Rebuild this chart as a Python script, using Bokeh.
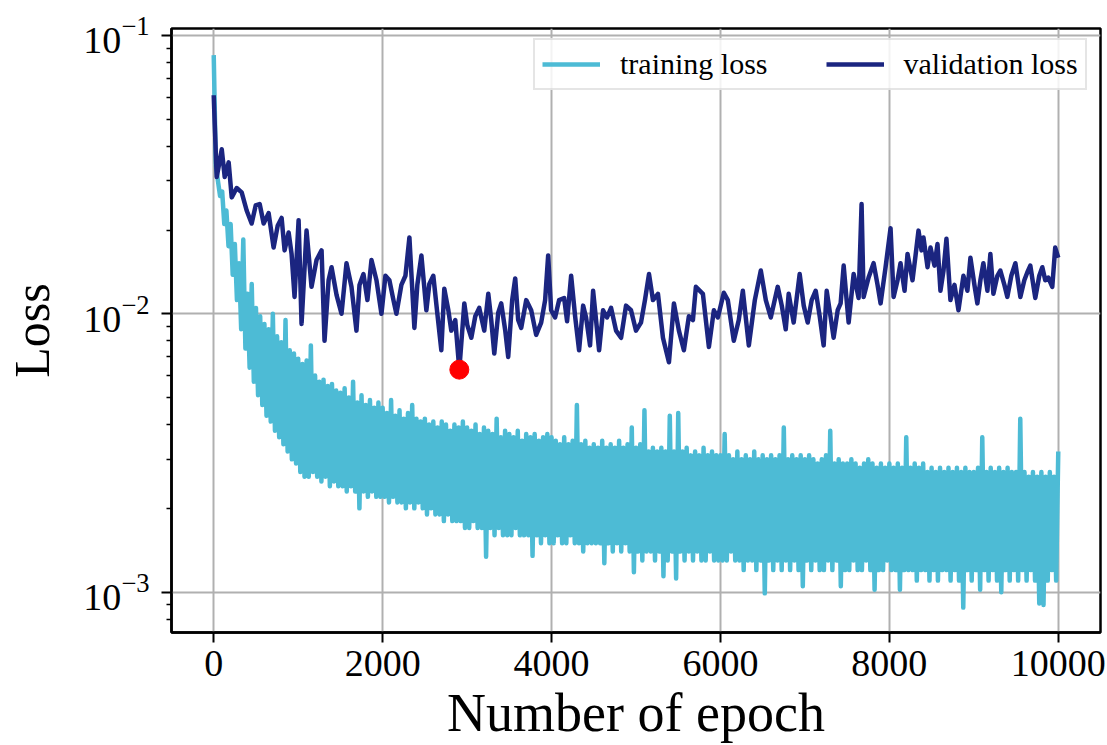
from bokeh.plotting import figure
from bokeh.models import Range1d, FixedTicker, LogTickFormatter, Legend, LegendItem
from bokeh.embed import file_html
from bokeh.resources import INLINE

# ---------------- data ----------------
train_epochs = list(range(0, 10001, 25))
train_loss = [
    0.085, 0.034, 0.030, 0.0265, 0.0275, 0.021, 0.0235, 0.0175, 0.021, 0.0138, 0.0178, 0.0112, 0.0152, 0.0088, 0.0185, 0.0075, 0.0118, 0.0064, 0.0128, 0.0057,
    0.0105, 0.0051, 0.0098, 0.0047, 0.0092, 0.0043, 0.0088, 0.0041, 0.0100, 0.0038, 0.0083, 0.0036, 0.0079, 0.0034, 0.0095, 0.0032, 0.0074, 0.0030, 0.0072, 0.0029,
    0.0069, 0.0027, 0.0066, 0.0026, 0.0068, 0.0026, 0.0077, 0.0027, 0.0060, 0.0026, 0.0057, 0.0025, 0.0058, 0.0026, 0.0055, 0.0024, 0.0056, 0.0025, 0.0053, 0.0024,
    0.0052, 0.0024, 0.0054, 0.0023, 0.0050, 0.0024, 0.0057, 0.0023, 0.0048, 0.0020, 0.0051, 0.0023, 0.0047, 0.0022, 0.0049, 0.0023, 0.0046, 0.0022, 0.0048, 0.0022,
    0.0046, 0.0022, 0.0044, 0.0021, 0.0049, 0.0022, 0.0043, 0.0021, 0.0045, 0.0021, 0.0042, 0.0020, 0.0044, 0.0021, 0.0047, 0.0020, 0.0042, 0.0021, 0.0041, 0.0020,
    0.0042, 0.0019, 0.0040, 0.0020, 0.0041, 0.0019, 0.0039, 0.0019, 0.0041, 0.0018, 0.0040, 0.0019, 0.0038, 0.0018, 0.0040, 0.0018, 0.0039, 0.0018, 0.0041, 0.0017,
    0.0039, 0.0017, 0.0038, 0.0018, 0.0040, 0.0017, 0.0037, 0.0017, 0.0039, 0.00134, 0.0038, 0.0017, 0.0037, 0.0016, 0.0042, 0.0017, 0.0036, 0.0016, 0.0038, 0.0016,
    0.0037, 0.0016, 0.0036, 0.0017, 0.0038, 0.0016, 0.0035, 0.0016, 0.0037, 0.0016, 0.0036, 0.00135, 0.0037, 0.0016, 0.0035, 0.0015, 0.0036, 0.0016, 0.0037, 0.0015,
    0.0036, 0.0015, 0.0035, 0.0016, 0.0034, 0.0015, 0.0036, 0.0015, 0.0034, 0.0016, 0.0035, 0.0015, 0.0047, 0.0015, 0.0034, 0.0014, 0.0035, 0.0015, 0.0033, 0.0015,
    0.0034, 0.0015, 0.0033, 0.0015, 0.0035, 0.00127, 0.0033, 0.0015, 0.0034, 0.0014, 0.0033, 0.0015, 0.0035, 0.0014, 0.0033, 0.0015, 0.0034, 0.0014, 0.0039, 0.00118,
    0.0033, 0.0014, 0.0034, 0.0013, 0.0045, 0.0014, 0.0032, 0.0014, 0.0033, 0.0013, 0.0032, 0.0014, 0.0033, 0.00114, 0.0032, 0.0013, 0.0043, 0.0014, 0.0032, 0.00112,
    0.0044, 0.0014, 0.0032, 0.0013, 0.0033, 0.0014, 0.0031, 0.0013, 0.0032, 0.0014, 0.0031, 0.0013, 0.0033, 0.0013, 0.0031, 0.0014, 0.0032, 0.0013, 0.0031, 0.0013,
    0.0031, 0.0013, 0.0037, 0.0013, 0.0031, 0.0014, 0.0030, 0.0013, 0.0032, 0.0013, 0.0030, 0.0012, 0.0031, 0.0013, 0.0030, 0.0013, 0.0032, 0.0012, 0.0030, 0.0013,
    0.0031, 0.00099, 0.0030, 0.0013, 0.0031, 0.0012, 0.0030, 0.0013, 0.0031, 0.0012, 0.0039, 0.0013, 0.0030, 0.0012, 0.0031, 0.0013, 0.0030, 0.0012, 0.0031, 0.00105,
    0.0030, 0.0013, 0.0031, 0.0012, 0.0030, 0.0013, 0.0029, 0.0012, 0.0030, 0.0012, 0.0031, 0.0013, 0.0038, 0.0012, 0.0029, 0.0013, 0.0030, 0.00105, 0.0029, 0.0012,
    0.0029, 0.0012, 0.0030, 0.0013, 0.0029, 0.0012, 0.0028, 0.0012, 0.0029, 0.0013, 0.0030, 0.0012, 0.0029, 0.00102, 0.0028, 0.0012, 0.0029, 0.0012, 0.0028, 0.0013,
    0.0029, 0.0012, 0.0028, 0.0012, 0.0029, 0.00102, 0.0028, 0.0012, 0.0036, 0.0012, 0.0028, 0.0012, 0.0029, 0.0011, 0.0028, 0.0012, 0.0029, 0.0012, 0.0027, 0.0011,
    0.0028, 0.0012, 0.0027, 0.0011, 0.0028, 0.0012, 0.0027, 0.0012, 0.0028, 0.0011, 0.0027, 0.0012, 0.0028, 0.0011, 0.0027, 0.00088, 0.0028, 0.0012, 0.0027, 0.0011,
    0.0027, 0.0012, 0.0028, 0.00102, 0.0036, 0.0012, 0.0027, 0.0011, 0.0028, 0.0012, 0.0027, 0.0011, 0.0028, 0.0010, 0.0027, 0.0012, 0.0028, 0.0011, 0.0027, 0.0012,
    0.0027, 0.0011, 0.0042, 0.0012, 0.0027, 0.0011, 0.0026, 0.0012, 0.0027, 0.0011, 0.0026, 0.00091, 0.0027, 0.0009, 0.0026, 0.0011, 0.0027, 0.0012, 0.0026, 0.0011,
    0.0032,
]

val_epochs = [
    0, 12, 35, 60, 95, 130, 177, 213, 272, 331, 390, 449, 497, 544, 591, 650, 709, 757, 804, 839,
    887, 922, 957, 1005, 1040, 1099, 1158, 1217, 1277, 1312, 1360, 1395, 1454, 1513, 1572, 1631, 1690, 1726, 1773, 1820,
    1868, 1927, 1986, 2033, 2080, 2128, 2163, 2222, 2270, 2317, 2376, 2411, 2459, 2518, 2553, 2600, 2648, 2695, 2730, 2778,
    2813, 2860, 2908, 2967, 3003, 3050, 3097, 3144, 3203, 3251, 3286, 3322, 3369, 3404, 3452, 3487, 3534, 3570, 3605, 3641,
    3700, 3759, 3818, 3877, 3924, 3960, 3995, 4042, 4090, 4149, 4184, 4232, 4279, 4326, 4374, 4409, 4456, 4492, 4527, 4563,
    4610, 4657, 4705, 4764, 4823, 4882, 4941, 5000, 5059, 5106, 5154, 5201, 5260, 5319, 5390, 5449, 5508, 5567, 5626, 5674,
    5709, 5792, 5863, 5922, 5969, 6040, 6087, 6158, 6217, 6265, 6336, 6407, 6478, 6537, 6596, 6678, 6726, 6773, 6808, 6867,
    6938, 6986, 7033, 7080, 7128, 7175, 7222, 7258, 7305, 7340, 7388, 7423, 7459, 7494, 7518, 7577, 7636, 7671, 7695, 7754,
    7813, 7860, 7896, 7955, 8014, 8050, 8097, 8132, 8180, 8215, 8274, 8310, 8345, 8381, 8404, 8452, 8487, 8534, 8570, 8605,
    8641, 8676, 8723, 8771, 8818, 8877, 8924, 8960, 9007, 9042, 9078, 9113, 9161, 9196, 9232, 9279, 9314, 9362, 9397, 9444,
    9492, 9551, 9598, 9634, 9669, 9728, 9775, 9811, 9846, 9882, 9929, 9964, 10000,
]
val_loss = [
    0.061, 0.048, 0.031, 0.034, 0.039, 0.031, 0.035, 0.0262, 0.0283, 0.0273, 0.0235, 0.0211, 0.0245, 0.0248, 0.0211, 0.0230, 0.0173, 0.0207, 0.0221, 0.0169,
    0.0196, 0.0164, 0.0115, 0.0217, 0.0092, 0.0199, 0.0125, 0.0156, 0.0169, 0.0080, 0.0132, 0.0147, 0.0117, 0.0100, 0.0152, 0.0125, 0.0087, 0.0127, 0.0139, 0.0112,
    0.0156, 0.0132, 0.0100, 0.0137, 0.0132, 0.0112, 0.0100, 0.0127, 0.0137, 0.0188, 0.0089, 0.0127, 0.0162, 0.0103, 0.0128, 0.0137, 0.0100, 0.0074, 0.0123, 0.0103,
    0.0087, 0.0095, 0.0063, 0.0109, 0.0091, 0.0082, 0.0098, 0.0105, 0.0087, 0.0118, 0.0095, 0.0072, 0.0101, 0.0109, 0.0087, 0.0070, 0.0112, 0.0134, 0.0095, 0.0089,
    0.0112, 0.0103, 0.0084, 0.0093, 0.0112, 0.0162, 0.0103, 0.0097, 0.0112, 0.0114, 0.0094, 0.0137, 0.0098, 0.0074, 0.0107, 0.0097, 0.0077, 0.0121, 0.0095, 0.0074,
    0.0103, 0.0097, 0.0105, 0.0087, 0.0082, 0.0107, 0.0103, 0.0087, 0.0093, 0.0112, 0.0139, 0.0112, 0.0118, 0.0082, 0.0067, 0.0109, 0.0087, 0.0074, 0.0098, 0.0095,
    0.0125, 0.0118, 0.0076, 0.0103, 0.0097, 0.0119, 0.0112, 0.0080, 0.0095, 0.0121, 0.0077, 0.0112, 0.0143, 0.0112, 0.0097, 0.0125, 0.0107, 0.0088, 0.0118, 0.0093,
    0.0139, 0.0107, 0.0093, 0.0112, 0.0121, 0.0098, 0.0077, 0.0121, 0.0097, 0.0082, 0.0103, 0.0109, 0.0149, 0.0112, 0.0093, 0.0139, 0.0114, 0.0248, 0.0115, 0.0135,
    0.0152, 0.0127, 0.0109, 0.0147, 0.0203, 0.0115, 0.0132, 0.0152, 0.0121, 0.0164, 0.0132, 0.0162, 0.0199, 0.0169, 0.0188, 0.0147, 0.0173, 0.0149, 0.0178, 0.0121,
    0.0143, 0.0186, 0.0112, 0.0127, 0.0103, 0.0137, 0.0121, 0.0159, 0.0127, 0.0109, 0.0132, 0.0152, 0.0121, 0.0164, 0.0118, 0.0137, 0.0143, 0.0127, 0.0115, 0.0137,
    0.0152, 0.0115, 0.0132, 0.0141, 0.0149, 0.0114, 0.0137, 0.0147, 0.0132, 0.0135, 0.0125, 0.0173, 0.0159,
]

best_epoch = [2908]
best_loss = [0.0063]

x_ticks = [0, 2000, 4000, 6000, 8000, 10000]
y_ticks = [0.001, 0.01, 0.1]
y_minor = [m * d for d in (0.0001, 0.001, 0.01) for m in range(2, 10)]

TRAIN_COLOR = "#4DBBD5"
VAL_COLOR = "#1B2580"
FONT = "Liberation Serif"

p = figure(
    width=1107, height=745,
    y_axis_type="log",
    x_range=Range1d(-500, 10500),
    y_range=Range1d(10 ** -3.145, 10 ** -0.975),
    output_backend="svg", toolbar_location=None,
    min_border_left=171, min_border_right=7, min_border_top=28, min_border_bottom=113,
    background_fill_color="white", border_fill_color="white",
)

r_train = p.line(train_epochs, train_loss, line_color=TRAIN_COLOR, line_width=4.5, line_join="round")
r_val = p.line(val_epochs, val_loss, line_color=VAL_COLOR, line_width=4.5, line_join="round")
p.scatter(best_epoch, best_loss, size=19, fill_color="#FF0000", line_color="#FF0000")

# axes
p.xaxis.ticker = FixedTicker(ticks=x_ticks, minor_ticks=[])
p.yaxis.ticker = FixedTicker(ticks=y_ticks, minor_ticks=y_minor)
p.yaxis.formatter = LogTickFormatter()

for ax in (p.xaxis[0], p.yaxis[0]):
    ax.axis_line_color = "black"
    ax.axis_line_width = 2.5
    ax.major_tick_line_color = "black"
    ax.major_tick_line_width = 2
    ax.major_tick_out = 10
    ax.major_tick_in = 0
    ax.minor_tick_line_color = "black"
    ax.minor_tick_line_width = 1.6
    ax.minor_tick_out = 5
    ax.minor_tick_in = 0
    ax.major_label_text_font = FONT
    ax.major_label_text_font_size = "38px"
    ax.major_label_text_color = "black"
    ax.axis_label_text_font = FONT
    ax.axis_label_text_font_style = "normal"
    ax.axis_label_text_color = "black"

p.xaxis.axis_label = "Number of epoch"
p.xaxis.axis_label_text_font_size = "54px"
p.xaxis.major_label_standoff = 8
p.xaxis.axis_label_standoff = 4

p.yaxis.axis_label = "Loss"
p.yaxis.axis_label_text_font_size = "50px"
p.yaxis.major_label_standoff = 12
p.yaxis.axis_label_standoff = 20

p.xgrid.grid_line_color = "#b0b0b0"
p.xgrid.grid_line_width = 2
p.ygrid.grid_line_color = "#b0b0b0"
p.ygrid.grid_line_width = 2

p.outline_line_color = "black"
p.outline_line_width = 2.5
p.outline_line_alpha = 1.0

legend = Legend(
    items=[LegendItem(label="training loss", renderers=[r_train]),
           LegendItem(label="validation loss", renderers=[r_val])],
    orientation="horizontal",
    location=(362, 542),
    label_text_font=FONT,
    label_text_font_size="30px",
    label_text_color="black",
    glyph_width=58,
    glyph_height=20,
    label_standoff=20,
    spacing=58,
    padding=7,
    margin=0,
    border_line_color="#cccccc",
    border_line_width=2,
    background_fill_color="white",
    background_fill_alpha=0.85,
)
p.add_layout(legend)

open("out.html", "w").write(file_html(p, INLINE))
